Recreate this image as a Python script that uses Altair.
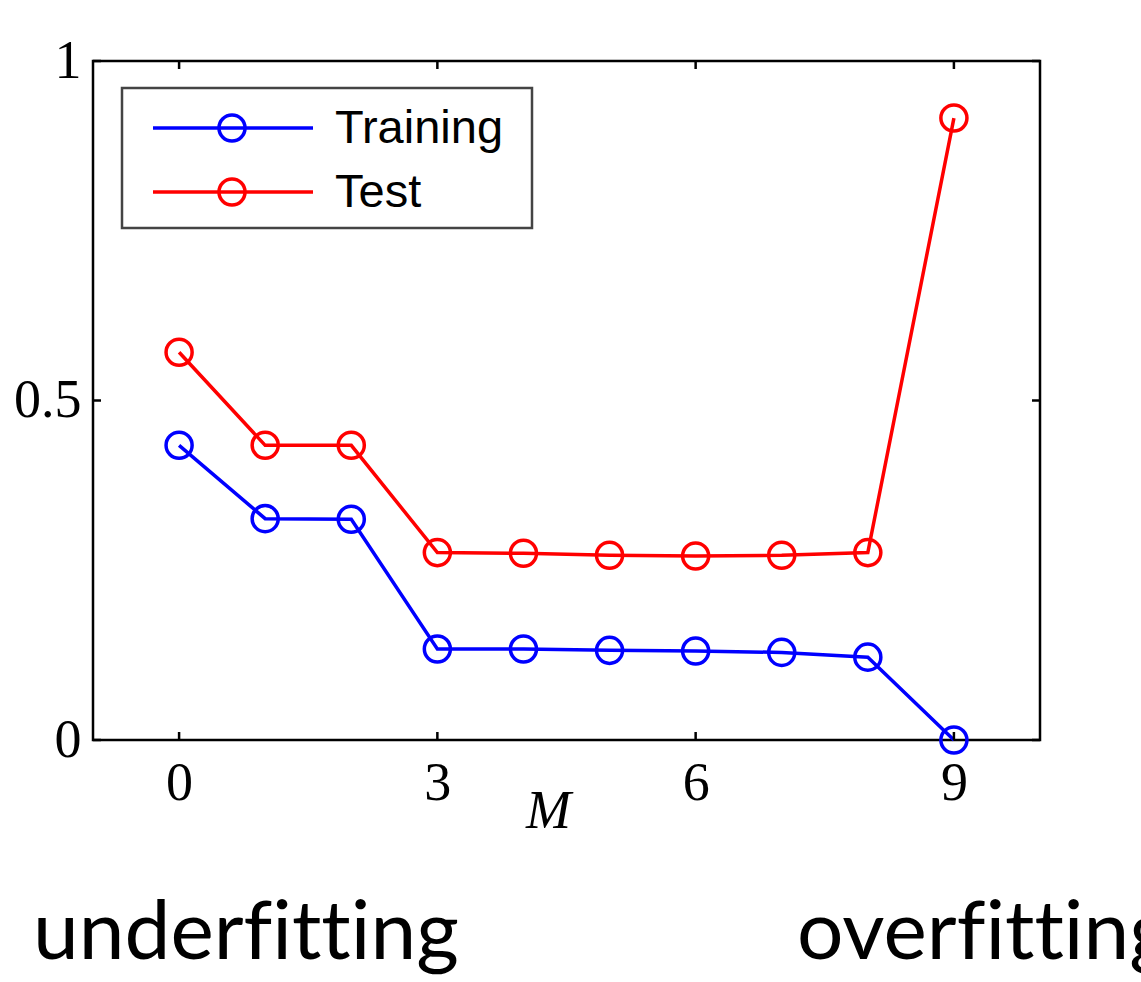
import altair as alt
import pandas as pd

# Polynomial order M and the RMS error on training and test sets
orders = list(range(10))
training_err = [0.434, 0.326, 0.325, 0.134, 0.134, 0.132, 0.131, 0.129, 0.122, 0.0]
test_err = [0.571, 0.434, 0.434, 0.276, 0.275, 0.272, 0.271, 0.272, 0.276, 0.916]
series_names = ["Training", "Test"]
series_colors = ["#0000ff", "#ff0000"]
x_ticks = [0, 3, 6, 9]
y_ticks = [0, 0.5, 1]

# Zero-width non-joiners keep "fi" / "tt" from collapsing into ligatures
ZWNJ = "\u200c"
caption_left = "underf" + ZWNJ + "it" + ZWNJ + "t" + ZWNJ + "ing"
caption_right = "overf" + ZWNJ + "it" + ZWNJ + "t" + ZWNJ + "ing"

W, H = 947, 679
TICK = 8
LW = 3.5

df = pd.DataFrame({
    "M": orders * 2,
    "error": training_err + test_err,
    "series": [series_names[0]] * len(orders) + [series_names[1]] * len(orders),
})

x_enc = alt.X(
    "M:Q",
    scale=alt.Scale(domain=[-1, 10], nice=False, zero=False),
    axis=alt.Axis(values=x_ticks, title="M", titleX=455, titleY=44,
                  titleBaseline="top", titleAlign="center", labelPadding=16),
)
y_enc = alt.Y(
    "error:Q",
    scale=alt.Scale(domain=[0, 1], nice=False),
    axis=alt.Axis(values=y_ticks, title="", format="~g", labelPadding=12),
)
color_enc = alt.Color(
    "series:N",
    scale=alt.Scale(domain=series_names, range=series_colors),
    legend=None,
)

lines = alt.Chart(df).mark_line(strokeWidth=LW).encode(
    x=x_enc, y=y_enc, color=color_enc, order="M:Q"
)
points = alt.Chart(df).mark_point(
    shape="circle", filled=False, size=680, strokeWidth=LW, opacity=1
).encode(x=x_enc, y=y_enc, color=color_enc)

# Inward tick marks on all four sides of the frame
xt = pd.DataFrame({"M": x_ticks})
yt = pd.DataFrame({"error": y_ticks})
tick_style = dict(color="black", strokeWidth=2.5)
xtick_bottom = alt.Chart(xt).mark_rule(**tick_style).encode(
    x=x_enc, y=alt.value(H), y2=alt.value(H - TICK))
xtick_top = alt.Chart(xt).mark_rule(**tick_style).encode(
    x=x_enc, y=alt.value(0), y2=alt.value(TICK))
ytick_left = alt.Chart(yt).mark_rule(**tick_style).encode(
    y=y_enc, x=alt.value(0), x2=alt.value(TICK))
ytick_right = alt.Chart(yt).mark_rule(**tick_style).encode(
    y=y_enc, x=alt.value(W), x2=alt.value(W - TICK))

one = pd.DataFrame({"k": [0]})

# Legend box
legend_box = alt.Chart(one).mark_rect(
    fill="white", stroke="#444444", strokeWidth=2.5
).encode(x=alt.value(29), x2=alt.value(439), y=alt.value(27), y2=alt.value(167))

legend_layers = []
for name, col, ly in zip(series_names, series_colors, [67, 131]):
    legend_layers.append(
        alt.Chart(one).mark_rule(color=col, strokeWidth=LW).encode(
            x=alt.value(60), x2=alt.value(220), y=alt.value(ly))
    )
    legend_layers.append(
        alt.Chart(one).mark_point(shape="circle", filled=False, size=680,
                                  strokeWidth=LW, color=col, opacity=1).encode(
            x=alt.value(139), y=alt.value(ly))
    )
    legend_layers.append(
        alt.Chart(one).mark_text(text=name, font="Liberation Sans", fontSize=47,
                                 align="left", baseline="middle", color="black").encode(
            x=alt.value(242), y=alt.value(ly + 1))
    )

# Captions below the plot
under = alt.Chart(one).mark_text(
    text=caption_left, font="Lato", fontSize=82, align="left",
    baseline="alphabetic", color="black"
).encode(x=alt.value(-60), y=alt.value(898))
over = alt.Chart(one).mark_text(
    text=caption_right, font="Lato", fontSize=82, align="left",
    baseline="alphabetic", color="black"
).encode(x=alt.value(704), y=alt.value(898))

chart = alt.layer(
    lines, points, xtick_bottom, xtick_top, ytick_left, ytick_right,
    legend_box, *legend_layers, under, over
).properties(
    width=W, height=H,
    autosize=alt.AutoSizeParams(type="none"),
    padding={"left": 93, "top": 61, "right": 101, "bottom": 242},
    background="white",
).configure_view(
    stroke="black", strokeWidth=2.5
).configure_axis(
    domain=False, ticks=False, grid=False,
    labelFont="Liberation Serif", labelFontSize=54, labelColor="black",
    titleFont="Liberation Serif", titleFontSize=54, titleFontStyle="italic",
    titleFontWeight="normal", titleColor="black",
)

chart.save("out.html", embed_options={"renderer": "svg", "actions": False})
